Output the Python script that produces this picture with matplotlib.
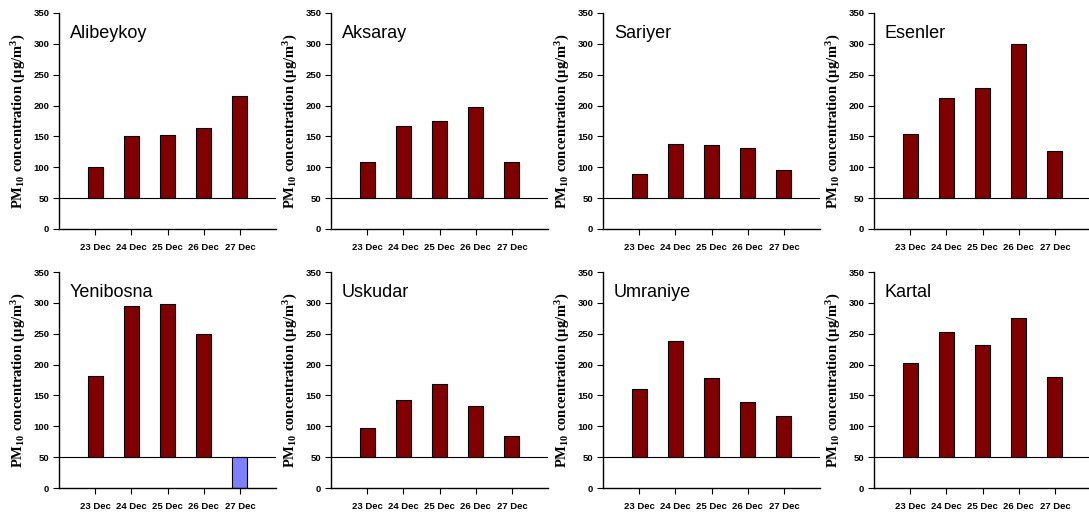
import matplotlib
matplotlib.use("Agg")
import matplotlib.pyplot as plt
import numpy as np

days = ["23 Dec", "24 Dec", "25 Dec", "26 Dec", "27 Dec"]
stations = ["Alibeykoy", "Aksaray", "Sariyer", "Esenler",
            "Yenibosna", "Uskudar", "Umraniye", "Kartal"]
alibeykoy = [100, 150, 153, 164, 215]
aksaray = [108, 167, 175, 197, 109]
sariyer = [89, 138, 136, 131, 96]
esenler = [154, 213, 229, 299, 126]
yenibosna = [182, 295, 298, 249, 0]
uskudar = [98, 143, 168, 133, 84]
umraniye = [160, 239, 178, 139, 117]
kartal = [202, 252, 232, 276, 180]
limit_value = 50

series = [alibeykoy, aksaray, sariyer, esenler, yenibosna, uskudar, umraniye, kartal]

plt.rcParams["mathtext.fontset"] = "custom"
plt.rcParams["mathtext.rm"] = "Liberation Serif:bold"
plt.rcParams["mathtext.it"] = "Liberation Serif:italic:bold"
plt.rcParams["mathtext.bf"] = "Liberation Serif:bold"

fig = plt.figure(figsize=(10.89, 5.16), dpi=100)
W, H = 1089, 516
lefts = [59, 331, 603, 874]
tops = [13, 272]
aw, ah = 217, 216

x = np.arange(1, len(days) + 1)
for i, (name, vals) in enumerate(zip(stations, series)):
    r, c = divmod(i, 4)
    ax = fig.add_axes([lefts[c] / W, 1 - (tops[r] + ah) / H, aw / W, ah / H])
    vals = np.array(vals, dtype=float)
    colors = ["#800000" if v >= limit_value else "#8080ff" for v in vals]
    ax.bar(x, vals - limit_value, bottom=limit_value, width=0.42,
           color=colors, edgecolor="black", linewidth=0.8, zorder=2)
    ax.axhline(limit_value, color="black", linewidth=0.8, zorder=3)
    ax.set_xlim(0, 6)
    ax.set_ylim(0, 350)
    ax.set_yticks(range(0, 351, 50))
    ax.set_xticks(x)
    ax.set_xticklabels(days)
    for s in ["top", "right"]:
        ax.spines[s].set_visible(False)
    for s in ["left", "bottom"]:
        ax.spines[s].set_linewidth(1.0)
    ax.tick_params(axis="both", direction="out", length=4, width=0.8, pad=3)
    for lab in ax.get_xticklabels() + ax.get_yticklabels():
        lab.set_fontfamily("Liberation Sans")
        lab.set_fontweight("bold")
        lab.set_fontsize(6.8)
    ax.tick_params(axis="x", pad=6)
    ax.set_ylabel("PM$_{10}$ concentration (\u03bcg/m$^{3}$)",
                  fontfamily="Liberation Serif", fontweight="bold",
                  fontsize=10.5, labelpad=4)
    ax.text(0.05, 0.905, name, transform=ax.transAxes, ha="left", va="center",
            fontfamily="Liberation Sans", fontsize=13)

fig.savefig("out.png", dpi=100)
